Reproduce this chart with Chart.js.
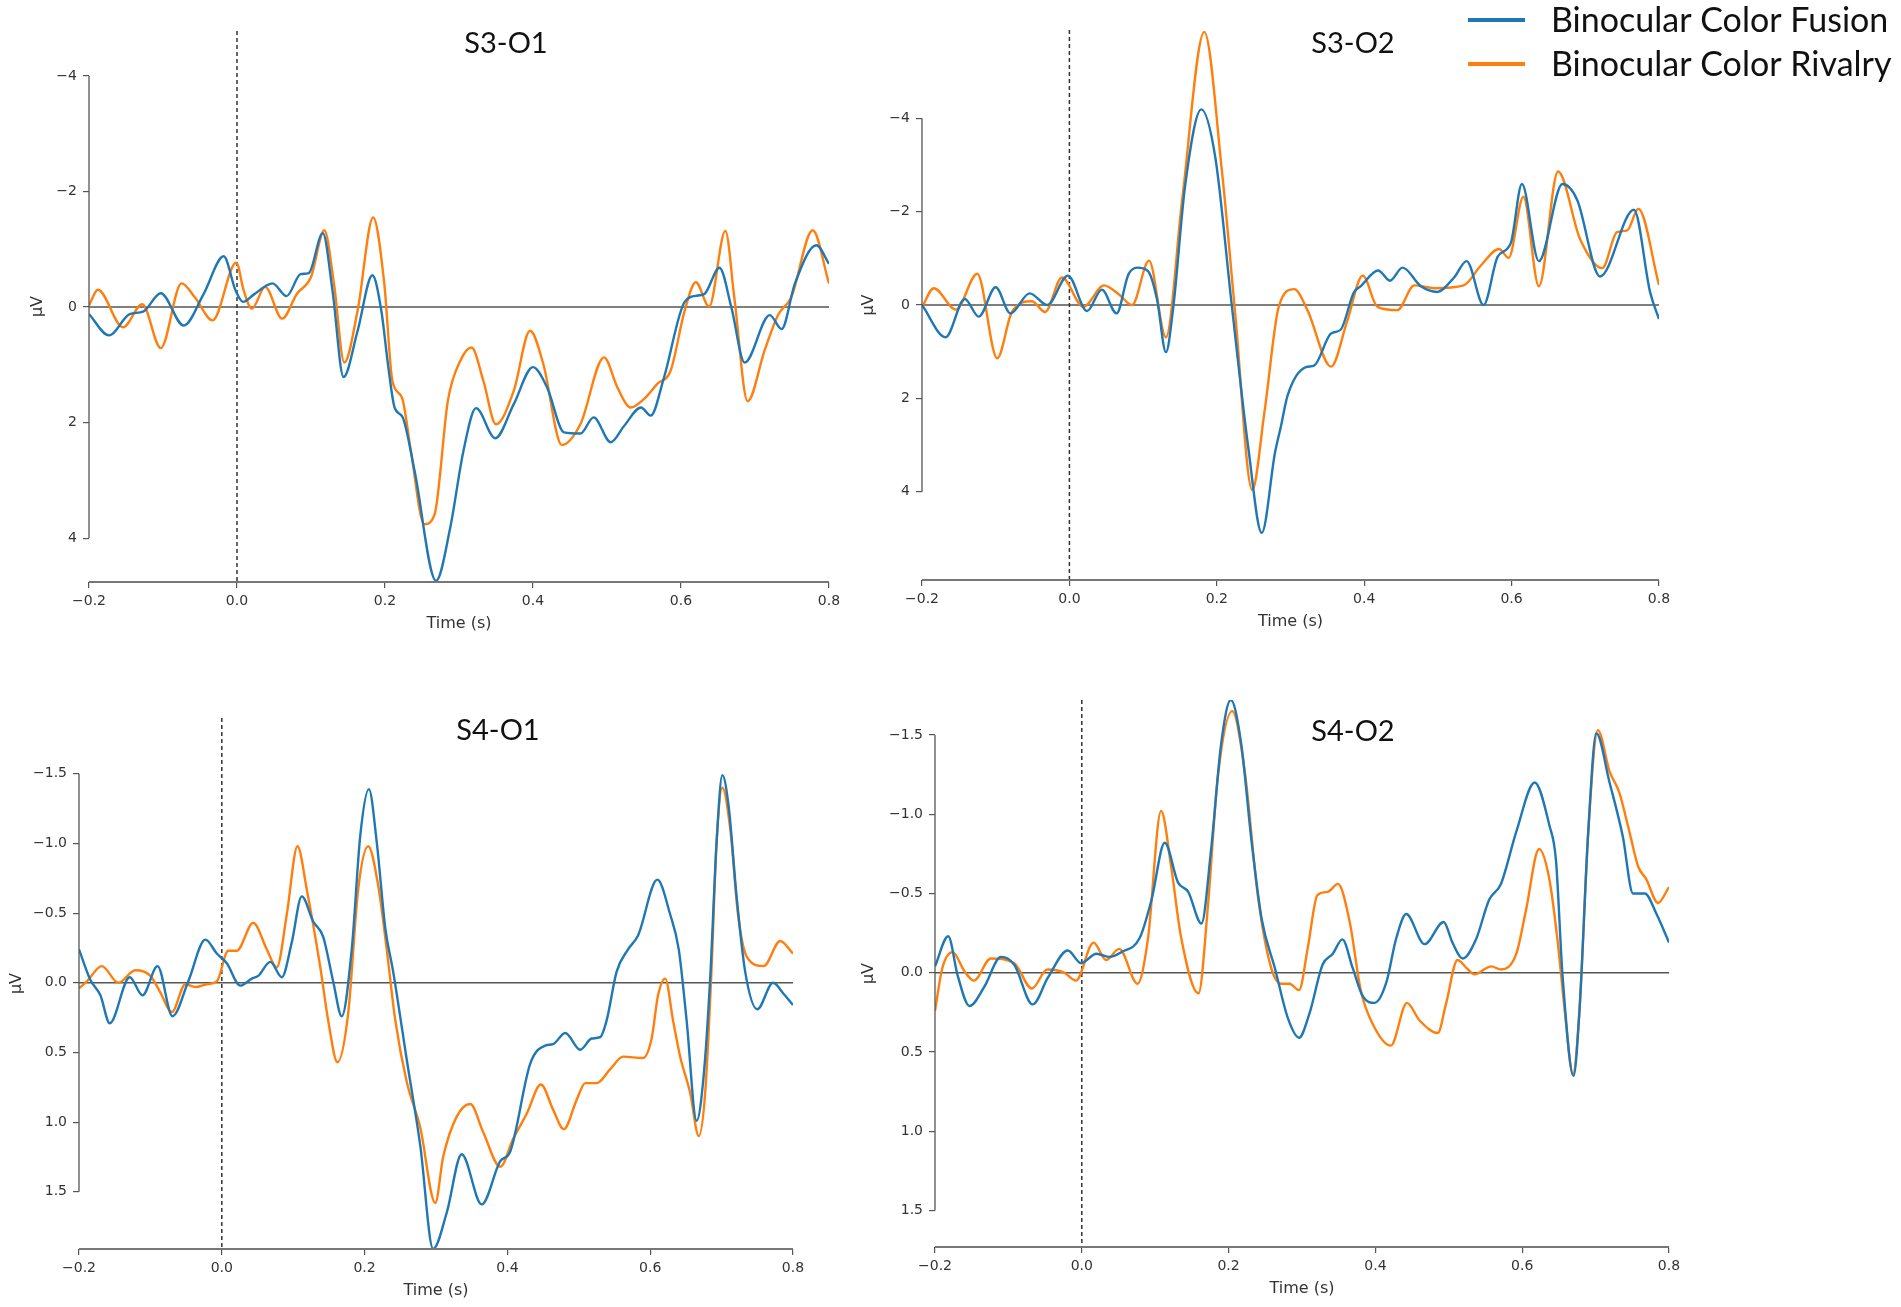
<!DOCTYPE html>
<html>
<head>
<meta charset="utf-8">
<script src="https://cdn.jsdelivr.net/npm/chart.js@4.4.1/dist/chart.umd.min.js"></script>
<style>
  html, body { margin: 0; padding: 0; background: #fff; }
  #page { position: relative; width: 1901px; height: 1307px; overflow: hidden; background: #fff; }
  #page canvas { position: absolute; }
</style>
</head>
<body>
<div id="page"></div>
<script>
const seriesNames = ["Binocular Color Fusion", "Binocular Color Rivalry"];
const timeTicks = [-0.2, 0, 0.2, 0.4, 0.6, 0.8];
const s3Ticks = [-4, -2, 0, 2, 4];
const s4Ticks = [-1.5, -1, -0.5, 0, 0.5, 1, 1.5];

// [time (s), amplitude (µV)]
const s3o1Fusion = [[-0.2,0.12],[-0.173,0.49],[-0.145,0.12],[-0.127,0.08],[-0.103,-0.24],[-0.072,0.32],[-0.045,-0.23],[-0.018,-0.88],[-0.002,-0.29],[0.008,-0.09],[0.023,-0.22],[0.048,-0.41],[0.067,-0.19],[0.086,-0.57],[0.097,-0.59],[0.116,-1.28],[0.129,-0.29],[0.144,1.21],[0.163,0.41],[0.183,-0.55],[0.195,0.06],[0.204,0.99],[0.213,1.74],[0.224,1.91],[0.240,2.84],[0.269,4.74],[0.288,3.83],[0.306,2.49],[0.323,1.75],[0.349,2.27],[0.374,1.68],[0.400,1.04],[0.419,1.39],[0.442,2.17],[0.464,2.19],[0.482,1.91],[0.505,2.34],[0.523,2.06],[0.546,1.74],[0.559,1.88],[0.577,1.22],[0.605,-0.09],[0.623,-0.2],[0.632,-0.23],[0.652,-0.68],[0.668,0],[0.686,0.96],[0.720,0.14],[0.736,0.38],[0.754,-0.41],[0.783,-1.07],[0.8,-0.75]];
const s3o1Rivalry = [[-0.2,-0.03],[-0.188,-0.30],[-0.154,0.35],[-0.128,-0.05],[-0.103,0.71],[-0.075,-0.41],[-0.057,-0.17],[-0.033,0.23],[-0.001,-0.77],[0.009,-0.29],[0.020,0.03],[0.038,-0.35],[0.061,0.20],[0.081,-0.23],[0.100,-0.52],[0.118,-1.33],[0.131,-0.41],[0.145,0.96],[0.163,0.06],[0.184,-1.55],[0.199,-0.41],[0.210,1.28],[0.223,1.57],[0.235,2.49],[0.253,3.76],[0.267,3.59],[0.285,1.62],[0.301,0.95],[0.317,0.70],[0.333,1.28],[0.350,2.03],[0.374,1.45],[0.396,0.41],[0.414,0.99],[0.439,2.39],[0.464,2.03],[0.496,0.87],[0.514,1.39],[0.532,1.74],[0.550,1.59],[0.568,1.33],[0.586,1.10],[0.605,0.06],[0.620,-0.43],[0.638,-0.01],[0.660,-1.32],[0.672,-0.17],[0.690,1.63],[0.713,0.75],[0.731,0.14],[0.749,-0.17],[0.778,-1.33],[0.8,-0.41]];

const s3o2Fusion = [[-0.2,0],[-0.168,0.69],[-0.142,-0.13],[-0.123,0.25],[-0.100,-0.38],[-0.080,0.18],[-0.054,-0.25],[-0.030,0],[-0.002,-0.63],[0.024,0.13],[0.044,-0.33],[0.064,0.18],[0.080,-0.65],[0.092,-0.80],[0.107,-0.72],[0.119,-0.11],[0.131,1.01],[0.141,0.04],[0.157,-2.55],[0.179,-4.19],[0.198,-3.16],[0.220,-0.04],[0.243,3.09],[0.261,4.88],[0.279,3.16],[0.287,2.6],[0.296,1.94],[0.321,1.33],[0.332,1.30],[0.355,0.61],[0.368,0.53],[0.386,-0.27],[0.395,-0.40],[0.419,-0.74],[0.435,-0.52],[0.452,-0.80],[0.477,-0.40],[0.499,-0.28],[0.522,-0.59],[0.539,-0.94],[0.562,0],[0.581,-1.03],[0.599,-1.33],[0.614,-2.59],[0.637,-0.94],[0.669,-2.59],[0.689,-2.25],[0.720,-0.61],[0.766,-2.04],[0.788,-0.27],[0.8,0.30]];
const s3o2Rivalry = [[-0.2,0.05],[-0.184,-0.36],[-0.154,0.1],[-0.125,-0.67],[-0.098,1.14],[-0.078,0.15],[-0.051,-0.08],[-0.033,0.15],[-0.010,-0.59],[0.019,0.04],[0.047,-0.42],[0.067,-0.23],[0.085,0],[0.108,-0.95],[0.131,0.69],[0.153,-2.25],[0.183,-5.85],[0.207,-2.86],[0.225,0.19],[0.248,3.96],[0.265,2.25],[0.284,0.04],[0.305,-0.34],[0.323,0.11],[0.355,1.32],[0.377,0.34],[0.398,-0.63],[0.418,0.04],[0.445,0.11],[0.468,-0.42],[0.495,-0.36],[0.535,-0.42],[0.558,-0.84],[0.583,-1.20],[0.596,-1.01],[0.616,-2.32],[0.637,-0.40],[0.663,-2.86],[0.693,-1.41],[0.723,-0.79],[0.743,-1.56],[0.757,-1.60],[0.772,-2.06],[0.8,-0.43]];

const s4o1Fusion = [[-0.2,-0.24],[-0.184,-0.02],[-0.170,0.09],[-0.157,0.29],[-0.129,-0.04],[-0.111,0.09],[-0.090,-0.12],[-0.069,0.24],[-0.047,-0.01],[-0.023,-0.31],[-0.007,-0.21],[0.007,-0.14],[0.026,0.02],[0.042,-0.03],[0.051,-0.05],[0.068,-0.15],[0.084,-0.04],[0.098,-0.29],[0.112,-0.62],[0.128,-0.44],[0.142,-0.33],[0.156,-0.01],[0.168,0.24],[0.182,-0.24],[0.194,-1.06],[0.206,-1.39],[0.217,-1.01],[0.229,-0.39],[0.240,-0.08],[0.259,0.55],[0.278,1.17],[0.296,1.91],[0.315,1.65],[0.336,1.23],[0.364,1.59],[0.390,1.28],[0.404,1.21],[0.432,0.58],[0.453,0.45],[0.464,0.44],[0.481,0.36],[0.502,0.48],[0.518,0.40],[0.530,0.39],[0.539,0.27],[0.553,-0.08],[0.569,-0.24],[0.583,-0.34],[0.610,-0.74],[0.628,-0.49],[0.640,-0.24],[0.651,0.27],[0.665,0.99],[0.675,0.66],[0.684,-0.03],[0.693,-1.01],[0.701,-1.49],[0.710,-1.26],[0.721,-0.62],[0.733,-0.08],[0.750,0.19],[0.772,0],[0.787,0.08],[0.8,0.16]];
const s4o1Rivalry = [[-0.2,0.04],[-0.189,-0.01],[-0.168,-0.12],[-0.145,0],[-0.121,-0.09],[-0.100,-0.05],[-0.086,0.07],[-0.070,0.21],[-0.051,0.01],[-0.037,0.03],[-0.021,0.01],[-0.007,-0.01],[0.009,-0.23],[0.021,-0.23],[0.044,-0.43],[0.063,-0.24],[0.077,-0.11],[0.091,-0.49],[0.106,-0.98],[0.119,-0.67],[0.138,-0.11],[0.149,0.27],[0.162,0.57],[0.177,0.22],[0.191,-0.67],[0.205,-0.98],[0.219,-0.70],[0.231,-0.24],[0.243,0.27],[0.259,0.71],[0.278,1.04],[0.299,1.58],[0.310,1.25],[0.329,0.96],[0.348,0.87],[0.366,1.07],[0.390,1.32],[0.408,1.12],[0.427,0.94],[0.447,0.73],[0.464,0.91],[0.479,1.05],[0.497,0.84],[0.509,0.72],[0.525,0.72],[0.544,0.62],[0.562,0.53],[0.590,0.54],[0.602,0.40],[0.611,0.09],[0.621,-0.03],[0.632,0.27],[0.642,0.53],[0.656,0.79],[0.668,1.10],[0.677,0.79],[0.686,-0.11],[0.693,-1.01],[0.701,-1.40],[0.712,-1.11],[0.723,-0.49],[0.735,-0.19],[0.759,-0.12],[0.782,-0.30],[0.8,-0.21]];

const s4o2Fusion = [[-0.2,-0.04],[-0.182,-0.23],[-0.169,0.02],[-0.153,0.21],[-0.133,0.09],[-0.110,-0.10],[-0.092,-0.05],[-0.067,0.20],[-0.046,0.03],[-0.019,-0.14],[-0.001,-0.06],[0.020,-0.12],[0.038,-0.10],[0.054,-0.13],[0.079,-0.22],[0.095,-0.46],[0.113,-0.82],[0.131,-0.57],[0.145,-0.51],[0.163,-0.31],[0.176,-0.77],[0.190,-1.45],[0.203,-1.72],[0.217,-1.45],[0.231,-0.84],[0.245,-0.34],[0.263,-0.03],[0.281,0.29],[0.296,0.41],[0.310,0.26],[0.328,-0.05],[0.342,-0.12],[0.355,-0.21],[0.369,-0.03],[0.383,0.15],[0.399,0.19],[0.415,0.06],[0.428,-0.21],[0.442,-0.37],[0.467,-0.18],[0.493,-0.32],[0.505,-0.19],[0.519,-0.09],[0.537,-0.21],[0.555,-0.46],[0.571,-0.56],[0.592,-0.89],[0.617,-1.20],[0.637,-0.93],[0.646,-0.71],[0.655,0.02],[0.670,0.65],[0.678,0.24],[0.690,-0.89],[0.701,-1.51],[0.719,-1.20],[0.737,-0.86],[0.751,-0.50],[0.767,-0.50],[0.783,-0.37],[0.8,-0.19]];
const s4o2Rivalry = [[-0.2,0.24],[-0.190,-0.03],[-0.176,-0.13],[-0.160,-0.01],[-0.147,0.05],[-0.124,-0.09],[-0.092,-0.06],[-0.068,0.10],[-0.047,-0.02],[-0.024,0],[-0.008,0.05],[0.016,-0.19],[0.033,-0.08],[0.051,-0.15],[0.076,0.07],[0.090,-0.21],[0.108,-1.02],[0.122,-0.66],[0.135,-0.23],[0.159,0.13],[0.172,-0.43],[0.185,-1.22],[0.205,-1.65],[0.222,-1.27],[0.240,-0.48],[0.258,-0.03],[0.272,0.07],[0.283,0.07],[0.296,0.11],[0.308,-0.16],[0.321,-0.49],[0.335,-0.51],[0.349,-0.56],[0.365,-0.32],[0.380,0.11],[0.396,0.32],[0.421,0.46],[0.443,0.19],[0.460,0.30],[0.485,0.38],[0.496,0.20],[0.512,-0.08],[0.524,-0.03],[0.535,0.01],[0.558,-0.04],[0.571,-0.02],[0.592,-0.12],[0.605,-0.39],[0.623,-0.78],[0.637,-0.59],[0.648,-0.21],[0.658,0.24],[0.669,0.64],[0.678,0.24],[0.690,-0.89],[0.703,-1.53],[0.719,-1.27],[0.732,-1.14],[0.746,-0.89],[0.758,-0.67],[0.769,-0.59],[0.785,-0.44],[0.8,-0.54]];

const fusionColor = "#1f77b4";
const rivalryColor = "#ff7f0e";
const tickFont = { family: "'DejaVu Sans'", size: 14 };
const labelFont = { family: "'DejaVu Sans'", size: 16 };

// area = chart area in page px [left, top, right, bottom]
const panels = [
  { title: "S3-O1", fusion: s3o1Fusion, rivalry: s3o1Rivalry, yTicks: s3Ticks, dec: 0,
    yMin: -4.78, yMax: 4.76, area: [89, 31, 829, 582], titleAt: [506, 44], unitX: 38 },
  { title: "S3-O2", fusion: s3o2Fusion, rivalry: s3o2Rivalry, yTicks: s3Ticks, dec: 0,
    yMin: -5.89, yMax: 5.89, area: [922, 30, 1659, 580], titleAt: [1353, 44], unitX: 869,
    padTop: 30, padRight: 242, legend: true },
  { title: "S4-O1", fusion: s4o1Fusion, rivalry: s4o1Rivalry, yTicks: s4Ticks, dec: 1,
    yMin: -1.90, yMax: 1.91, area: [79, 718, 793, 1249], titleAt: [498, 731], unitX: 17 },
  { title: "S4-O2", fusion: s4o2Fusion, rivalry: s4o2Rivalry, yTicks: s4Ticks, dec: 1,
    yMin: -1.72, yMax: 1.73, area: [935, 700, 1669, 1247], titleAt: [1353, 732], unitX: 869 },
];

const fmt = (v, d) => v.toFixed(d).replace("-", "\u2212");
const page = document.getElementById("page");

function makePanel(p) {
  const [aL, aT, aR, aB] = p.area;
  const padTop = p.padTop || 20;
  const padRight = p.padRight || 30;
  const yAxisW = Math.round(aL - p.unitX + 9.6);
  const xAxisH = 51;
  const cL = aL - yAxisW, cT = aT - padTop;
  const w = yAxisW + (aR - aL) + padRight;
  const h = padTop + (aB - aT) + xAxisH;

  const canvas = document.createElement("canvas");
  canvas.width = w;
  canvas.height = h;
  canvas.style.left = cL + "px";
  canvas.style.top = cT + "px";
  canvas.style.width = w + "px";
  canvas.style.height = h + "px";
  page.appendChild(canvas);

  const decor = {
    id: "decor",
    beforeDatasetsDraw(chart) {
      const { ctx, chartArea: a, scales: { x, y } } = chart;
      ctx.save();
      const y0 = y.getPixelForValue(0);
      ctx.strokeStyle = "#555";
      ctx.lineWidth = 1.5;
      ctx.beginPath(); ctx.moveTo(a.left, y0); ctx.lineTo(a.right, y0); ctx.stroke();
      const x0 = x.getPixelForValue(0);
      ctx.strokeStyle = "#333";
      ctx.setLineDash([4, 3]);
      ctx.beginPath(); ctx.moveTo(x0, a.top); ctx.lineTo(x0, a.bottom); ctx.stroke();
      ctx.restore();
    },
    afterDraw(chart) {
      const { ctx, chartArea: a, scales: { x, y } } = chart;
      ctx.save();
      // bounded spines like matplotlib's despine(trim=True)
      ctx.strokeStyle = "#555";
      ctx.lineWidth = 1.3;
      ctx.beginPath();
      ctx.moveTo(a.left, y.getPixelForValue(p.yTicks[0]));
      ctx.lineTo(a.left, y.getPixelForValue(p.yTicks[p.yTicks.length - 1]));
      ctx.stroke();
      ctx.strokeStyle = "#777";
      ctx.lineWidth = 2;
      ctx.beginPath();
      ctx.moveTo(x.getPixelForValue(timeTicks[0]), a.bottom);
      ctx.lineTo(x.getPixelForValue(timeTicks[timeTicks.length - 1]), a.bottom);
      ctx.stroke();

      ctx.fillStyle = "#111";
      ctx.font = "29px Lato";
      ctx.textAlign = "center";
      ctx.textBaseline = "middle";
      ctx.fillText(p.title, p.titleAt[0] - cL, p.titleAt[1] - cT);

      if (p.legend) {
        const rows = [[fusionColor, 20], [rivalryColor, 64]];
        ctx.font = "34px Lato";
        ctx.textAlign = "left";
        rows.forEach(([c, ry], i) => {
          ctx.strokeStyle = c;
          ctx.lineWidth = 4;
          ctx.beginPath();
          ctx.moveTo(1468 - cL, ry - cT);
          ctx.lineTo(1525 - cL, ry - cT);
          ctx.stroke();
          ctx.fillText(seriesNames[i], 1551 - cL, ry - cT + 1);
        });
      }
      ctx.restore();
    },
  };

  new Chart(canvas, {
    type: "line",
    data: {
      datasets: [
        { label: seriesNames[0], data: p.fusion, borderColor: fusionColor, borderWidth: 2.4,
          pointRadius: 0, cubicInterpolationMode: "monotone" },
        { label: seriesNames[1], data: p.rivalry, borderColor: rivalryColor, borderWidth: 2.4,
          pointRadius: 0, cubicInterpolationMode: "monotone" },
      ],
    },
    options: {
      responsive: false,
      animation: false,
      events: [],
      layout: { padding: { top: padTop, right: padRight, left: 0, bottom: 0 } },
      scales: {
        x: {
          type: "linear",
          min: timeTicks[0],
          max: timeTicks[timeTicks.length - 1],
          afterBuildTicks: s => { s.ticks = timeTicks.map(v => ({ value: v })); },
          afterFit: s => { s.height = xAxisH; },
          grid: { drawOnChartArea: false, drawTicks: true, tickLength: 6, color: "#555", lineWidth: 1.2 },
          border: { display: false },
          ticks: { font: tickFont, color: "#333", padding: 5, maxRotation: 0,
                   callback: v => fmt(v, 1) },
          title: { display: true, text: "Time (s)", font: labelFont, color: "#333",
                   padding: { top: 0, bottom: 0 } },
        },
        y: {
          type: "linear",
          reverse: true,
          min: p.yMin,
          max: p.yMax,
          afterBuildTicks: s => { s.ticks = p.yTicks.map(v => ({ value: v })); },
          afterFit: s => { s.width = yAxisW; },
          grid: { drawOnChartArea: false, drawTicks: true, tickLength: 6, color: "#555", lineWidth: 1.2 },
          border: { display: false },
          ticks: { font: tickFont, color: "#333", padding: 6, callback: v => fmt(v, p.dec) },
          title: { display: true, text: "µV", font: labelFont, color: "#333",
                   padding: { top: 0, bottom: 0 } },
        },
      },
      plugins: {
        legend: { display: false },
        tooltip: { enabled: false },
      },
    },
    plugins: [decor],
  });
}

panels.forEach(makePanel);
</script>
</body>
</html>
